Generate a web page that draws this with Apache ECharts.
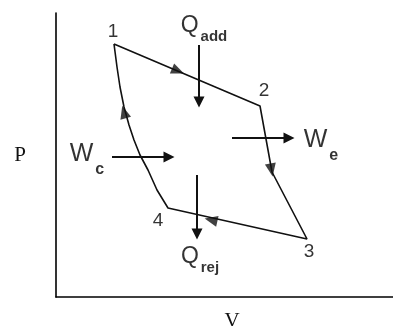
<!DOCTYPE html>
<html>
<head>
<meta charset="utf-8">
<script src="https://cdn.jsdelivr.net/npm/echarts@6/dist/echarts.min.js"></script>
<style>
  html, body { margin: 0; padding: 0; background: #fff; }
  #chart { width: 393px; height: 326px; }
</style>
</head>
<body>
<div id="chart"></div>
<script>
  // P-V cycle, V along x, P along y (arbitrary units)
  const cyclePath = [
    [58, 253], [204, 191], [216, 125], [251, 58], [112, 89],
    [101, 107], [92, 127], [84, 142], [78, 157], [73, 172],
    [68, 190], [64, 210], [61, 230], [58, 253],
  ];
  const cycleArrowAt = [[122, 226], [215.5, 127], [155, 77], [68, 185]];

  const stateNames = ['1', '2', '3', '4'];
  const statePos = [[57, 265], [208, 206], [253, 45], [102, 76]];

  // heat / work arrows: start -> end
  const flowArrows = [
    [[143, 252], [143, 195]],
    [[141, 122], [141, 63]],
    [[176, 159], [233, 159]],
    [[56, 140], [113, 140]],
  ];
  const flowNames = [['Q', 'add'], ['Q', 'rej'], ['W', 'e'], ['W', 'c']];
  const flowLabelPos = [[148, 271], [144, 40], [265, 157], [31, 143]];

  const sans = 'Liberation Sans';
  const serif = 'Liberation Serif';

  const segDist = (p, a, b) => {
    const dx = b[0] - a[0], dy = b[1] - a[1];
    let t = ((p[0] - a[0]) * dx + (p[1] - a[1]) * dy) / (dx * dx + dy * dy);
    t = Math.max(0, Math.min(1, t));
    return Math.hypot(p[0] - a[0] - t * dx, p[1] - a[1] - t * dy);
  };

  const arrowHeads = cycleArrowAt.map((p) => {
    let best = 0, bestD = Infinity;
    for (let i = 0; i < cyclePath.length - 1; i++) {
      const d = segDist(p, cyclePath[i], cyclePath[i + 1]);
      if (d < bestD) { bestD = d; best = i; }
    }
    const a = cyclePath[best], b = cyclePath[best + 1];
    const ang = Math.atan2(b[1] - a[1], b[0] - a[0]) * 180 / Math.PI;
    return { value: p, symbolRotate: ang - 90 };
  });

  const chart = echarts.init(document.getElementById('chart'));

  chart.setOption({
    animation: false,
    backgroundColor: '#fff',
    grid: { left: 56, right: 0, top: 13, bottom: 29, containLabel: false, outerBoundsMode: 'none' },
    xAxis: {
      type: 'value',
      min: 0,
      max: 337,
      name: 'V',
      nameLocation: 'middle',
      nameGap: 14,
      nameTextStyle: { fontFamily: serif, fontSize: 21, color: '#111', padding: [0, 0, 0, 15] },
      axisLine: { lineStyle: { color: '#000', width: 1.6 } },
      axisTick: { show: false },
      axisLabel: { show: false },
      splitLine: { show: false },
    },
    yAxis: {
      type: 'value',
      min: 0,
      max: 284,
      name: 'P',
      nameLocation: 'middle',
      nameRotate: 0,
      nameGap: 30,
      nameTextStyle: { fontFamily: serif, fontSize: 21, color: '#111' },
      axisLine: { show: true, lineStyle: { color: '#000', width: 1.6 } },
      axisTick: { show: false },
      axisLabel: { show: false },
      splitLine: { show: false },
    },
    series: [
      {
        type: 'line',
        data: cyclePath,
        showSymbol: false,
        symbol: 'none',
        lineStyle: { color: '#111', width: 1.6 },
        silent: true,
        z: 2,
      },
      {
        type: 'scatter',
        data: arrowHeads,
        symbol: 'triangle',
        symbolSize: [11, 13],
        itemStyle: { color: '#111' },
        silent: true,
        z: 3,
      },
      {
        type: 'lines',
        coordinateSystem: 'cartesian2d',
        data: flowArrows.map((c) => ({ coords: c })),
        symbol: ['none', 'triangle'],
        symbolSize: 11,
        lineStyle: { color: '#111', width: 2, opacity: 1 },
        silent: true,
        z: 4,
      },
      {
        type: 'scatter',
        symbolSize: 0,
        data: stateNames.map((n, i) => ({ name: n, value: statePos[i] })),
        label: {
          show: true,
          position: 'inside',
          formatter: '{b}',
          fontFamily: sans,
          fontSize: 19,
          color: '#000',
          textBorderWidth: 0,
        },
        silent: true,
      },
      {
        type: 'scatter',
        symbolSize: 0,
        data: flowNames.map(([m, s], i) => {
          const k = m === 'Q' ? 'q' : 'w';
          return {
            name: m + s,
            value: flowLabelPos[i],
            label: { formatter: `{${k}|${m}}{${k}s|${s}}` },
          };
        }),
        label: {
          show: true,
          position: 'inside',
          color: '#000',
          textBorderWidth: 0,
          fontFamily: sans,
          rich: {
            q: { fontFamily: sans, fontSize: 23, lineHeight: 37, color: '#000' },
            qs: { fontFamily: sans, fontSize: 15, fontWeight: 'bold', lineHeight: 15, verticalAlign: 'bottom', padding: [0, 0, 0, 2], color: '#000' },
            w: { fontFamily: sans, fontSize: 25, lineHeight: 48, color: '#000' },
            ws: { fontFamily: sans, fontSize: 16, fontWeight: 'bold', lineHeight: 16, verticalAlign: 'bottom', padding: [0, 0, 0, 2], color: '#000' },
          },
        },
        silent: true,
      },
    ],
  });
</script>
</body>
</html>
